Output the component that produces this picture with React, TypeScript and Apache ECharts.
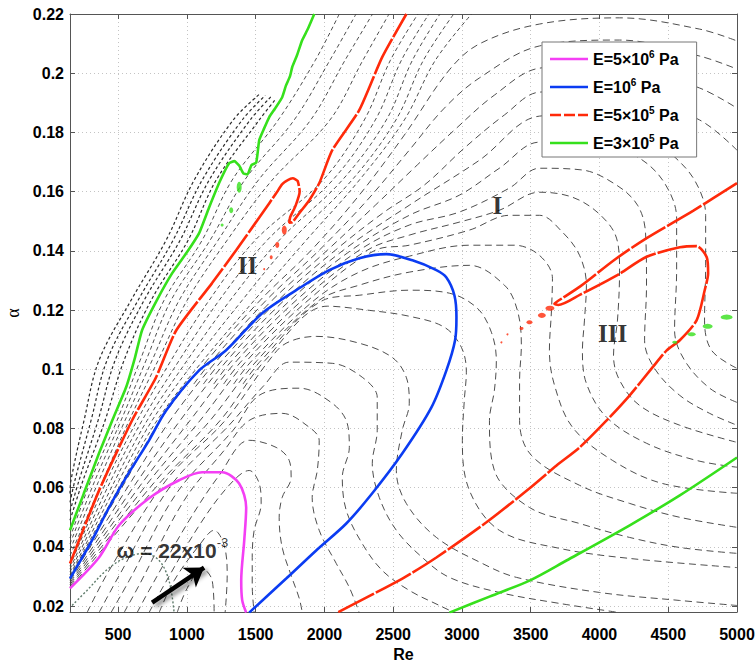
import React, { useEffect, useRef } from "react";
import * as echarts from "echarts";

const RE_MIN = 150;
const RE_MAX = 5000;
const ALPHA_MIN = 0.018;
const ALPHA_MAX = 0.22;

// legend: [base, exponent] -> "E=5×10^6 Pa"
const legendNames = ["E=5×10^6 Pa", "E=10^6 Pa", "E=5×10^5 Pa", "E=3×10^5 Pa"];
const legendRich = ["{a|E=5×10}{s|6}{a| Pa}", "{a|E=10}{s|6}{a| Pa}", "{a|E=5×10}{s|5}{a| Pa}", "{a|E=3×10}{s|5}{a| Pa}"];
const curveColors = ["#f43ff4", "#0b3cf2", "#ff2a0a", "#36e01c"];

// ---- neutral curves (Re, alpha) ----
const magentaCurve = [[150,.026],[361,.0364],[507,.0473],[725,.0564],[943,.0625],[1111,.0652],[1256,.0652],[1380,.0614],[1431,.0533],[1417,.0422],[1395,.0287],[1402,.022],[1431,.0178]];
const blueCurve = [[150,.0293],[310,.0422],[434,.0533],[558,.0635],[725,.076],[849,.0861],[1089,.0996],[1285,.1064],[1547,.1189],[1795,.1267],[2035,.1335],[2253,.1375],[2450,.1389],[2640,.1368],[2814,.1335],[2887,.131],[2945,.125],[2960,.1176],[2950,.1098],[2887,.0996],[2778,.0871],[2567,.0716],[2348,.0581],[2159,.0479],[1940,.0388],[1722,.0293],[1453,.0178]];
const redLeft = [[150,.0344],[361,.059],[601,.0827],[776,.0973],[921,.113],[1183,.1291],[1358,.1402],[1548,.1527],[1650,.1595],[1693,.1625],[1730,.1638],[1770,.1645],[1805,.1636],[1820,.16],[1790,.1552],[1752,.1515],[1744,.1495],[1768,.1497],[1817,.1527],[1890,.1571],[1963,.1629],[2057,.174],[2253,.1875],[2421,.2055],[2596,.22]];
const redRight = [[5000,.1629],[4680,.1535],[4343,.1443],[4110,.137],[3860,.128],[3690,.1228],[3672,.1221],[3700,.1217],[3860,.1252],[4130,.1318],[4343,.138],[4584,.1412],[4707,.1416],[4780,.1378],[4790,.1324],[4765,.1267],[4707,.1166],[4584,.1098],[4489,.1064],[4387,.1007],[4220,.0912],[4052,.0827],[3856,.0736],[3688,.0675],[3492,.0598],[3178,.0483],[2814,.0364],[2567,.0293],[2093,.0178]];
const greenLeft = [[150,.0456],[250,.058],[361,.0716],[460,.083],[558,.0939],[620,.1035],[674,.1132],[780,.1232],[892,.1324],[1000,.1395],[1089,.146],[1160,.1545],[1240,.1635],[1307,.1696],[1345,.1703],[1380,.1688],[1410,.1662],[1440,.1658],[1470,.169],[1504,.1698],[1526,.1774],[1560,.1812],[1599,.1852],[1640,.188],[1693,.1919],[1720,.1958],[1750,.199],[1766,.2021],[1800,.206],[1839,.2112],[1880,.215],[1926,.22]];
const greenRight = [[2909,.0178],[3200,.0232],[3491,.0286],[3760,.0354],[4220,.0473],[4584,.0574],[5000,.0702]];
// [Re, alpha, width px, height px]
const redBlobs = [[1708,.147,5,9],[1657,.142,4,6],[1613,.1378,3,4],[1562,.1338,2,2],[3640,.1206,9,5],[3581,.1182,8,5],[3491,.1159,6,4],[3433,.1138,4,3],[3331,.1118,2,2],[3287,.1091,2,2]];
const greenBlobs = [[1380,.1615,5,11],[1322,.1537,4,6],[1256,.1487,3,3],[4547,.1091,5,3],[4670,.1118,8,4],[4787,.1145,10,5],[4925,.1176,12,5]];

// ---- dashed frequency contours, dense band near the neutral curve ----
const bandL0 = [[150,.058],[157,.0625],[252,.0827],[361,.103],[594,.1233],[849,.1436],[1053,.1639],[1337,.1842],[1530,.193]];
const bandL1 = [[150,.055],[186,.0625],[303,.0827],[419,.103],[645,.1233],[900,.1436],[1111,.1639],[1402,.1842],[1570,.1925]];
const bandL2 = [[150,.052],[216,.0625],[354,.0827],[478,.103],[689,.1233],[951,.1436],[1162,.1639],[1460,.1842],[1610,.192]];
const bandL3 = [[150,.049],[245,.0625],[405,.0827],[543,.103],[740,.1233],[1009,.1436],[1213,.1639],[1526,.1842],[1650,.1915]];
const bandL4 = [[150,.043],[303,.0625],[492,.0827],[660,.103],[834,.1233],[1111,.1436],[1329,.1639],[1664,.1842],[1934,.2044],[2108,.22]];
const bandL5 = [[150,.041],[332,.0625],[521,.0827],[703,.103],[885,.1233],[1169,.1436],[1420,.1639],[1780,.1842],[2040,.2044],[2230,.22]];
const bandL6 = [[150,.039],[361,.0625],[550,.0827],[747,.103],[944,.1233],[1227,.1436],[1520,.1639],[1900,.1842],[2150,.2044],[2350,.22]];
const bandL7 = [[150,.037],[390,.0625],[580,.0827],[791,.103],[1002,.1233],[1293,.1436],[1620,.1639],[2040,.1842],[2280,.2044],[2470,.22]];
const bandL8 = [[150,.0335],[419,.0625],[638,.0827],[885,.103],[1162,.1233],[1497,.1436],[1990,.1639],[2290,.1842],[2480,.2044],[2680,.22]];
const bandL9 = [[150,.0325],[448,.0625],[674,.0827],[944,.103],[1235,.1233],[1584,.1436],[2060,.1639],[2370,.1842],[2560,.2044],[2760,.22]];
const bandL10 = [[150,.0315],[478,.0625],[711,.0827],[1002,.103],[1315,.1233],[1672,.1436],[2130,.1639],[2450,.1842],[2640,.2044],[2840,.22]];
const bandL11 = [[150,.0305],[507,.0625],[747,.0827],[1060,.103],[1402,.1233],[1766,.1436],[2200,.1639],[2520,.1842],[2720,.2044],[2940,.22]];
const bandL12 = [[150,.03],[536,.0625],[783,.0827],[1118,.103],[1490,.1233],[1868,.1436],[2254,.1639],[2581,.1842],[2807,.2044],[3070,.22]];

// ---- contours that leave the band as arcs (region I) ----
const arcA1 = [[150,.0297],[558,.0625],[805,.0827],[1147,.103],[1533,.1233],[1904,.1402],[2253,.1588],[2581,.1791],[2908,.2011],[3127,.2099],[3563,.2166],[4146,.2187],[4728,.2149],[5000,.2109]];
const arcA2 = [[1050,.095],[1184,.103],[1577,.1233],[1962,.1402],[2311,.1571],[2617,.174],[2872,.1882],[3127,.1984],[3563,.2092],[4146,.2112],[4728,.2058],[5000,.2014]];
const arcA3 = [[150,.0291],[601,.0625],[878,.0827],[1220,.103],[1620,.1233],[2021,.1402],[2370,.1554],[2675,.169],[2945,.1808],[3236,.1926],[3563,.2017],[4146,.2031],[4728,.195],[5000,.1882]];
const arcA4 = [[1120,.095],[1256,.103],[1664,.1233],[2079,.1402],[2435,.1531],[2726,.1622],[3017,.1747],[3309,.1859],[3563,.1936],[4146,.1943],[4728,.1842],[5000,.174]];
const arcA5 = [[150,.0285],[645,.0625],[951,.0827],[1293,.103],[1708,.1233],[2137,.1402],[2617,.1554],[3127,.1706],[3563,.1855],[4000,.1862],[4291,.1815],[4510,.1733],[4691,.1639],[4772,.152],[4772,.1351],[4764,.1166],[4815,.1064],[5000,.1003]];
const arcA6 = [[1195,.095],[1329,.103],[1751,.1233],[2195,.1402],[2617,.152],[2981,.1588],[3272,.1679],[3563,.1767],[4000,.1767],[4291,.1713],[4473,.1629],[4561,.151],[4561,.1335],[4546,.1132],[4619,.103],[4801,.0936],[5000,.0888]];
const arcA7 = [[150,.0279],[689,.0625],[1023,.0827],[1365,.103],[1795,.1233],[2253,.1402],[2617,.1487],[2981,.1531],[3345,.1612],[3563,.1679],[3876,.1673],[4124,.1622],[4277,.1554],[4335,.146],[4342,.1284],[4328,.1098],[4400,.1003],[4583,.0912],[4801,.0851],[5000,.0811]];
const arcA8 = [[1267,.095],[1402,.103],[1839,.1233],[2311,.1402],[2617,.1453],[2981,.1497],[3272,.1537],[3563,.1598],[3804,.1581],[4000,.1524],[4124,.1443],[4146,.1335],[4131,.1166],[4102,.1047],[4146,.0963],[4291,.0878],[4583,.0811],[5000,.0753]];
const arcA9 = [[150,.0273],[732,.0625],[1096,.0827],[1438,.103],[1882,.1233],[2370,.1402],[2617,.1419],[3054,.147],[3345,.152],[3563,.152],[3731,.1463],[3855,.1385],[3905,.1284],[3891,.1166],[3876,.1064],[3905,.0952],[4051,.0838],[4342,.075],[4706,.0692],[5000,.0669]];
const arcA10 = [[1340,.095],[1475,.103],[1926,.1233],[2253,.1328],[2617,.1382],[3054,.1419],[3381,.1419],[3563,.1385],[3658,.1307],[3651,.1199],[3636,.1064],[3673,.0946],[3804,.0804],[4095,.0692],[4459,.0614],[5000,.0581]];
const arcA11 = [[150,.0267],[776,.0625],[1169,.0827],[1511,.103],[1962,.1233],[2253,.1284],[2617,.1328],[3054,.1351],[3309,.1284],[3403,.1199],[3432,.1081],[3419,.0963],[3419,.0827],[3505,.0709],[3855,.0608],[4218,.0547],[4583,.05],[5000,.0466]];
const arcA12 = [[1408,.095],[1540,.103],[1991,.1233],[2253,.125],[2617,.1267],[2908,.1257],[3112,.1206],[3214,.1125],[3250,.103],[3236,.0929],[3200,.0827],[3236,.0658],[3491,.0533],[3855,.0479],[4218,.0432],[4583,.0398],[5000,.0378]];
const arcA13 = [[150,.0261],[820,.0625],[1242,.0827],[1569,.103],[2021,.1213],[2326,.1199],[2617,.1179],[2872,.1142],[2996,.1074],[3032,.099],[3017,.0895],[3003,.076],[3054,.0591],[3272,.0456],[3709,.0395],[4218,.0361],[5000,.033]];

// ---- inner loops around the frequency maximum ----
const loopZ2 = [[274,.0178],[434,.032],[849,.0625],[1278,.0827],[1598,.103],[1722,.1088],[1940,.1111],[2253,.1088],[2493,.104],[2595,.0973],[2617,.0885],[2566,.0794],[2523,.0658],[2595,.0547],[2814,.0432],[3148,.0344],[3396,.0297],[4000,.0246],[4583,.0219],[5000,.0202]];
const loopZ3 = [[361,.0178],[507,.0303],[885,.0608],[1307,.0811],[1562,.0946],[1744,.1024],[2057,.102],[2275,.0973],[2384,.0905],[2384,.0794],[2348,.0682],[2399,.0567],[2523,.0456],[2712,.0364],[2908,.0297],[3272,.0246],[3709,.0209],[4146,.0178]];
const loopZ4 = [[448,.0178],[580,.0286],[929,.0584],[1336,.0794],[1526,.0912],[1817,.0936],[2057,.0885],[2166,.0817],[2181,.0736],[2130,.0635],[2159,.0523],[2275,.0411],[2421,.032],[2617,.0253],[2836,.0202],[2945,.0178]];
const loopZ5 = [[543,.0178],[652,.027],[980,.0557],[1271,.0726],[1453,.0827],[1693,.0851],[1890,.0804],[1962,.076],[1948,.0658],[1911,.0567],[1962,.0456],[2086,.0344],[2181,.0263],[2253,.0178]];
const loopZ6 = [[638,.0178],[725,.0253],[1016,.0489],[1234,.0641],[1453,.076],[1649,.0736],[1744,.0692],[1758,.0635],[1693,.0567],[1671,.05],[1693,.0398],[1766,.0293],[1817,.0226],[1839,.0178]];
const loopZ7 = [[725,.0178],[812,.0253],[1089,.0472],[1307,.0608],[1453,.0658],[1526,.0614],[1540,.0547],[1489,.0456],[1475,.0364],[1475,.027],[1489,.0178]];
const loopL1 = [[798,.0178],[907,.0286],[1089,.0405],[1198,.0456],[1271,.0405],[1293,.0303],[1278,.0178]];
const loopL2 = [[929,.0178],[1002,.026],[1111,.0327],[1184,.0286],[1198,.0178]];
const omegaMarkedContour = [[165,.0202],[274,.0253],[412,.032],[543,.0361],[689,.0378],[798,.0354],[870,.0286],[907,.0178]];

// ---- annotations ----
const regionLabels: [string, number, number][] = [["I", 3258, .1554], ["II", 1440, .1351], ["III", 4095, .1122]];
const omegaLabel = { base: "ω = 22x10", exp: "-3", re: 485, alpha: .0388 };
const arrowCoords = [[747, .0212], [1125, .033]];

const FONT = "Liberation Sans, Arial, Helvetica, sans-serif";

function contour(data: number[][], dash: number[], width = 0.9, color = "#3a3a3a") {
  return {
    type: "line", data, symbol: "none", showSymbol: false, smooth: 0.35, silent: true, z: 1,
    lineStyle: { color, width, type: dash }, emphasis: { disabled: true }, legendHoverLink: false,
  };
}

function curve(name: string, data: number[][], color: string, dash: any = "solid", smooth = 0.3) {
  return {
    type: "line", name, data, symbol: "none", showSymbol: false, smooth, silent: true, z: 3,
    lineStyle: { color, width: 2.6, type: dash }, itemStyle: { color }, emphasis: { disabled: true },
  };
}

function blobs(data: number[][], color: string) {
  return {
    type: "scatter", silent: true, z: 3, symbol: "circle",
    data: data.map((b) => ({ value: [b[0], b[1]], symbolSize: [b[2], b[3]] })),
    itemStyle: { color },
  };
}

function buildOption() {
  const bandDash = [3, 2.5];
  const arcDash = [7, 4.5];
  const series: any[] = [];
  [bandL0, bandL1, bandL2, bandL3].forEach((d) => series.push(contour(d, bandDash, 1.2, "#2a2a2a")));
  [bandL4, bandL5, bandL6, bandL7, bandL8, bandL9, bandL10, bandL11, bandL12].forEach((d) => series.push(contour(d, [4, 3], 0.9)));
  [arcA1, arcA2, arcA3, arcA4, arcA5, arcA6, arcA7, arcA8, arcA9, arcA10, arcA11, arcA12, arcA13].forEach((d) => series.push(contour(d, arcDash, 0.9)));
  [loopZ2, loopZ3, loopZ4, loopZ5, loopZ6, loopZ7, loopL1, loopL2].forEach((d) => series.push(contour(d, arcDash, 0.9)));
  series.push(contour(omegaMarkedContour, [2, 2], 1.4, "#5d7a6a"));

  series.push(curve(legendNames[0], magentaCurve, curveColors[0]));
  series.push(curve(legendNames[1], blueCurve, curveColors[1]));
  series.push(curve(legendNames[2], redLeft, curveColors[2], [40, 2], 0.2));
  series.push(curve("redRight", redRight, curveColors[2], [40, 2], 0.25));
  series.push(curve(legendNames[3], greenLeft, curveColors[3], "solid", 0.15));
  series.push(curve("greenRight", greenRight, curveColors[3]));
  series.push(blobs(redBlobs, curveColors[2]));
  series.push(blobs(greenBlobs, curveColors[3]));

  series.push({
    type: "scatter", silent: true, z: 6, symbol: "circle", symbolSize: 1,
    itemStyle: { color: "rgba(0,0,0,0)" },
    data: regionLabels.map(([t, x, y]) => ({ value: [x, y], name: t })),
    label: {
      show: true, position: "inside", formatter: (p: any) => p.name,
      fontFamily: "Liberation Serif, Times New Roman, serif", fontWeight: "bold", fontSize: 25, color: "#000",
    },
  });
  series.push({
    type: "scatter", silent: true, z: 6, symbol: "circle", symbolSize: 1,
    itemStyle: { color: "rgba(0,0,0,0)" },
    data: [{ value: [omegaLabel.re, omegaLabel.alpha], name: "omega" }],
    label: {
      show: true, position: "right", distance: 0,
      formatter: () => `{a|${omegaLabel.base}}{s|${omegaLabel.exp}}`,
      rich: {
        a: { fontFamily: FONT, fontWeight: "bold", fontSize: 21, color: "#000", lineHeight: 28 },
        s: { fontFamily: FONT, fontSize: 13, color: "#000", verticalAlign: "top", lineHeight: 13 },
      },
    },
  });
  series.push({
    type: "lines", coordinateSystem: "cartesian2d", silent: true, z: 6,
    data: [{ coords: arrowCoords }],
    symbol: ["none", "arrow"], symbolSize: 18,
    lineStyle: { color: "#000", width: 4.5, opacity: 1, curveness: 0, shadowBlur: 4, shadowColor: "rgba(0,0,0,0.45)", shadowOffsetX: 3, shadowOffsetY: 3 },
  });

  const axisLineStyle = { color: "#555", width: 1 };
  const tickStyle = { show: true, inside: true, length: 5, lineStyle: { color: "#555" } };
  const labelText = { fontFamily: FONT, fontWeight: "bold", fontSize: 16, color: "#000" };
  const solidIcon = "path://M0 0H38V2.6H0Z";
  const dashIcon = "path://M0 0H11V2.6H0Z M14 0H25V2.6H14Z M28 0H38V2.6H28Z";

  return {
    animation: false,
    backgroundColor: "#fff",
    grid: { left: 70, right: 18, top: 14, bottom: 50, outerBoundsMode: "none" },
    legend: {
      orient: "vertical", left: 542, top: 42, padding: [7, 18, 6, 8], itemGap: 10,
      itemWidth: 38, itemHeight: 14, backgroundColor: "#fff", borderColor: "#777", borderWidth: 1,
      selectedMode: false,
      formatter: (name: string) => legendRich[legendNames.indexOf(name)],
      textStyle: {
        fontFamily: FONT, fontWeight: "bold", fontSize: 16, color: "#000",
        rich: {
          a: { fontFamily: FONT, fontWeight: "bold", fontSize: 16, color: "#000", lineHeight: 20 },
          s: { fontFamily: FONT, fontWeight: "bold", fontSize: 10, color: "#000", verticalAlign: "top", lineHeight: 11 },
        },
      },
      data: [
        { name: legendNames[0], icon: solidIcon },
        { name: legendNames[1], icon: solidIcon },
        { name: legendNames[2], icon: dashIcon },
        { name: legendNames[3], icon: solidIcon },
      ],
    },
    xAxis: [
      {
        type: "value", min: RE_MIN, max: RE_MAX, splitNumber: 10, position: "bottom",
        name: "Re", nameLocation: "middle", nameGap: 33,
        nameTextStyle: { fontFamily: FONT, fontWeight: "bold", fontSize: 16, color: "#000" },
        axisLine: { show: true, onZero: false, lineStyle: axisLineStyle },
        axisTick: tickStyle,
        axisLabel: { ...labelText, margin: 14, showMinLabel: false, formatter: (v: number) => String(v) },
        splitLine: { show: true, lineStyle: { color: "#c4c4c4", width: 1, type: [1, 3] } },
      },
      {
        type: "value", min: RE_MIN, max: RE_MAX, splitNumber: 10, position: "top",
        axisLine: { show: true, onZero: false, lineStyle: axisLineStyle },
        axisTick: tickStyle, axisLabel: { show: false }, splitLine: { show: false },
      },
    ],
    yAxis: [
      {
        type: "value", min: ALPHA_MIN, max: ALPHA_MAX, splitNumber: 10, position: "left",
        name: "α", nameLocation: "middle", nameGap: 36, nameRotate: 90,
        nameTextStyle: { fontFamily: "Liberation Serif, serif", fontSize: 18, color: "#000" },
        axisLine: { show: true, onZero: false, lineStyle: axisLineStyle },
        axisTick: tickStyle,
        axisLabel: { ...labelText, margin: 6, showMinLabel: false, formatter: (v: number) => String(Math.round(v * 100) / 100) },
        splitLine: { show: true, lineStyle: { color: "#c4c4c4", width: 1, type: [1, 3] } },
      },
      {
        type: "value", min: ALPHA_MIN, max: ALPHA_MAX, splitNumber: 10, position: "right",
        axisLine: { show: true, onZero: false, lineStyle: axisLineStyle },
        axisTick: tickStyle, axisLabel: { show: false }, splitLine: { show: false },
      },
    ],
    series,
  };
}

export default function App() {
  const ref = useRef<HTMLDivElement>(null);
  useEffect(() => {
    document.body.style.margin = "0";
    const chart = echarts.init(ref.current as HTMLDivElement, null, { renderer: "svg" });
    chart.setOption(buildOption() as any);
    return () => chart.dispose();
  }, []);
  return <div ref={ref} style={{ width: 755, height: 662, background: "#fff" }} />;
}
